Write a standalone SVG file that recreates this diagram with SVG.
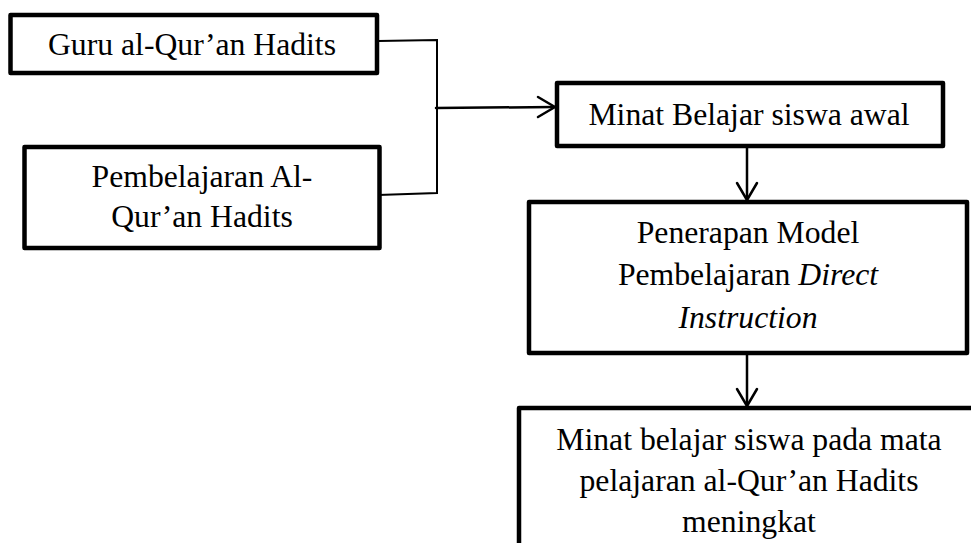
<svg xmlns="http://www.w3.org/2000/svg" width="971" height="543" viewBox="0 0 971 543">
<defs>
<style>
.box{fill:#fff;stroke:#000;stroke-width:4.5;stroke-linejoin:round}
.t{font-family:"Liberation Serif","Times New Roman",serif;font-size:31.7px;fill:#000;text-anchor:middle}
.i{font-style:italic}
.c{fill:none;stroke:#000;stroke-width:2}
.a{fill:none;stroke:#000;stroke-width:2.5;stroke-linecap:round;stroke-linejoin:round}
</style>
</defs>
<rect width="971" height="543" fill="#fff"/>
<g id="connectors">
<polyline class="c" points="378,41 437,40 437,193 378,195"/>
<line class="a" x1="436" y1="108" x2="554" y2="107"/>
<polyline class="a" points="538,97 555,107 538,117"/>
<line class="a" x1="747" y1="147" x2="747" y2="200"/>
<polyline class="a" points="737,183 747,200 757,183"/>
<line class="a" x1="747" y1="354" x2="747" y2="406"/>
<polyline class="a" points="737,389 747,406 757,389"/>
</g>
<g id="node-guru">
<rect class="box" x="10.5" y="15" width="366.5" height="58"/>
<text class="t" x="192" y="55">Guru al-Qur’an Hadits</text>
</g>
<g id="node-pembelajaran">
<rect class="box" x="24.5" y="147" width="355" height="101"/>
<text class="t" x="202" y="187">Pembelajaran Al-</text>
<text class="t" x="202" y="227">Qur’an Hadits</text>
</g>
<g id="node-minat-awal">
<rect class="box" x="557" y="83" width="386" height="63"/>
<text class="t" x="749" y="125">Minat Belajar siswa awal</text>
</g>
<g id="node-penerapan">
<rect class="box" x="529" y="202" width="438" height="151"/>
<text class="t" x="748" y="243">Penerapan Model</text>
<text class="t" x="748" y="285">Pembelajaran <tspan class="i">Direct</tspan></text>
<text class="t i" x="748" y="328">Instruction</text>
</g>
<g id="node-minat-meningkat">
<rect class="box" x="519" y="408" width="460" height="160"/>
<text class="t" x="749" y="450">Minat belajar siswa pada mata</text>
<text class="t" x="749" y="491">pelajaran al-Qur’an Hadits</text>
<text class="t" x="749" y="532">meningkat</text>
</g>
</svg>
